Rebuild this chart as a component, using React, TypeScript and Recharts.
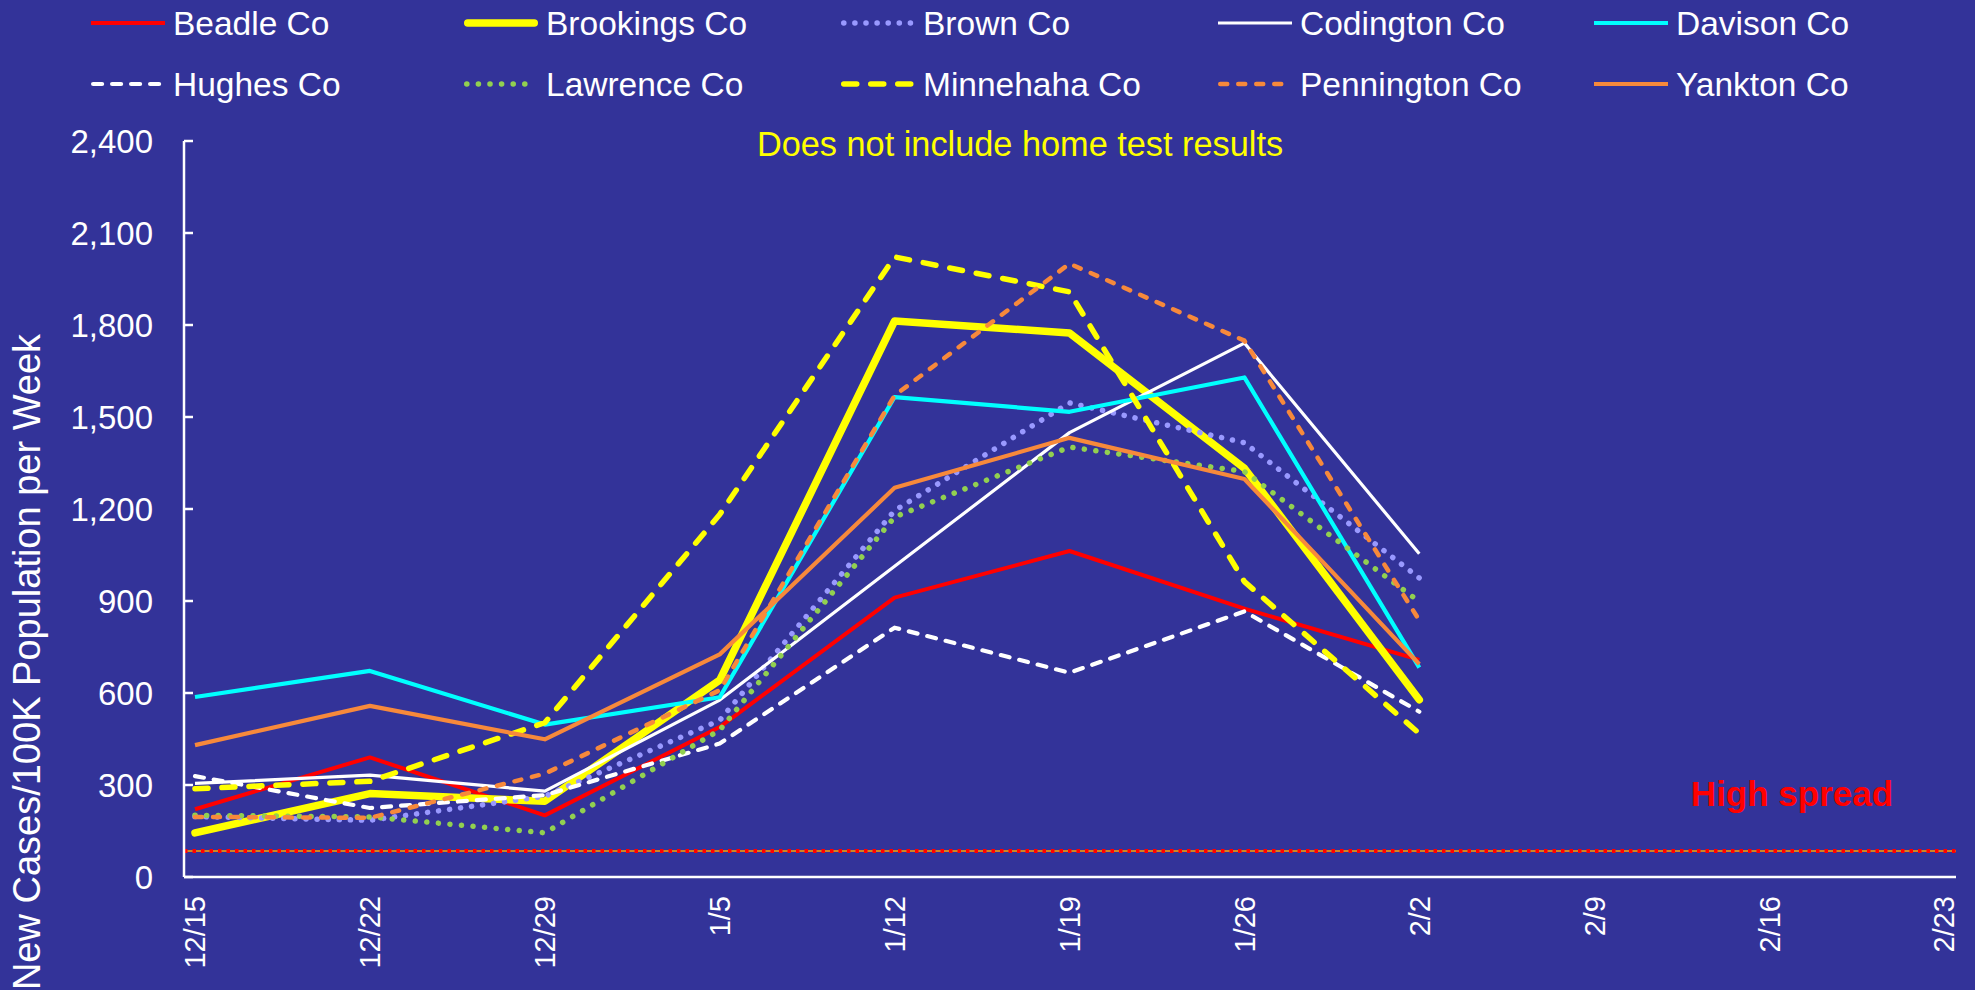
import React from 'react';
import { LineChart, Line, XAxis, YAxis, ReferenceLine, Legend, Customized } from 'recharts';

const categories = ['12/15', '12/22', '12/29', '1/5', '1/12', '1/19', '1/26', '2/2', '2/9', '2/16', '2/23'];

const beadle = [221, 390, 201, 489, 911, 1063, 875, 708];
const brookings = [144, 272, 247, 642, 1813, 1774, 1333, 578];
const brown = [197, 185, 263, 511, 1195, 1546, 1416, 975];
const codington = [305, 332, 280, 577, 1013, 1449, 1741, 1054];
const davison = [587, 672, 497, 586, 1565, 1517, 1629, 683];
const hughes = [329, 225, 267, 435, 813, 666, 866, 539];
const lawrence = [201, 196, 144, 479, 1174, 1402, 1322, 898];
const minnehaha = [288, 312, 503, 1182, 2022, 1908, 963, 468];
const pennington = [196, 193, 337, 609, 1570, 2000, 1749, 837];
const yankton = [430, 558, 449, 726, 1269, 1432, 1298, 694];

const yTicks = [0, 300, 600, 900, 1200, 1500, 1800, 2100, 2400];
const highSpreadThreshold = 85;

const FONT = '"Liberation Sans", Arial, sans-serif';
const BG = '#333399';

type SeriesDef = {
  key: string;
  name: string;
  values: number[];
  color: string;
  width: number;
  dash?: string;
  cap: 'butt' | 'round';
};

const seriesDefs: SeriesDef[] = [
  { key: 'beadle', name: 'Beadle Co', values: beadle, color: '#FF0000', width: 4, cap: 'butt' },
  { key: 'brookings', name: 'Brookings Co', values: brookings, color: '#FFFF00', width: 7.5, cap: 'round' },
  { key: 'brown', name: 'Brown Co', values: brown, color: '#9999FF', width: 5.5, dash: '0.1 11', cap: 'round' },
  { key: 'codington', name: 'Codington Co', values: codington, color: '#FFFFFF', width: 3.2, cap: 'butt' },
  { key: 'davison', name: 'Davison Co', values: davison, color: '#00FFFF', width: 4.2, cap: 'butt' },
  { key: 'hughes', name: 'Hughes Co', values: hughes, color: '#FFFFFF', width: 4.2, dash: '9 10', cap: 'round' },
  { key: 'lawrence', name: 'Lawrence Co', values: lawrence, color: '#92D050', width: 5.5, dash: '0.1 11.5', cap: 'round' },
  { key: 'minnehaha', name: 'Minnehaha Co', values: minnehaha, color: '#FFFF00', width: 5.5, dash: '13 14', cap: 'round' },
  { key: 'pennington', name: 'Pennington Co', values: pennington, color: '#F7893B', width: 4.5, dash: '7 11', cap: 'round' },
  { key: 'yankton', name: 'Yankton Co', values: yankton, color: '#F7893B', width: 4.2, cap: 'butt' },
];

const data = categories.map((c, i) => {
  const row: Record<string, any> = { date: c };
  seriesDefs.forEach((s) => {
    row[s.key] = i < s.values.length ? s.values[i] : null;
  });
  return row;
});

const legendCols = [91, 464, 841, 1218, 1594];
const legendRows = [23, 84];

const LegendContent = () => (
  <svg width={1975} height={110} style={{ display: 'block' }}>
    {seriesDefs.map((s, i) => {
      const x = legendCols[i % 5];
      const y = legendRows[Math.floor(i / 5)];
      return (
        <g key={s.key}>
          <line
            x1={x + (s.cap === 'round' ? s.width / 2 : 0)}
            x2={x + 74 - (s.cap === 'round' ? s.width / 2 : 0)}
            y1={y}
            y2={y}
            stroke={s.color}
            strokeWidth={s.width}
            strokeDasharray={s.dash}
            strokeLinecap={s.cap}
          />
          <text x={x + 82} y={y} dy="0.36em" fill="#FFFFFF" fontSize={33.5} fontFamily={FONT}>
            {s.name}
          </text>
        </g>
      );
    })}
  </svg>
);

const XTick = (props: any) => {
  const { x, y, payload } = props;
  return (
    <text
      x={x}
      y={y}
      transform={`rotate(-90, ${x}, ${y})`}
      textAnchor="end"
      dy="0.36em"
      fill="#FFFFFF"
      fontSize={29}
      fontFamily={FONT}
    >
      {payload.value}
    </text>
  );
};

const Annotations = () => (
  <g>
    <text x={1020} y={144} dy="0.36em" textAnchor="middle" fill="#FFFF00" fontSize={34.3} fontFamily={FONT}>
      Does not include home test results
    </text>
    <text x={1792} y={806} textAnchor="middle" fill="#FF0000" fontSize={35} fontWeight="bold" fontFamily={FONT}>
      High spread
    </text>
    <text
      x={40}
      y={662}
      transform="rotate(-90, 40, 662)"
      textAnchor="middle"
      fill="#FFFFFF"
      fontSize={38}
      fontFamily={FONT}
    >
      New Cases/100K Population per Week
    </text>
  </g>
);

export default function App() {
  return (
    <div style={{ width: 1975, height: 990, background: BG, position: 'relative', overflow: 'hidden' }}>
      <style>{`body{margin:0;background:${BG};}`}</style>
      <LineChart
        width={1975}
        height={990}
        data={data}
        margin={{ top: 141, right: 19, left: 84, bottom: 0 }}
        style={{ background: BG }}
      >
        <XAxis
          dataKey="date"
          type="category"
          interval={0}
          padding={{ left: 11, right: 12 }}
          height={113}
          axisLine={{ stroke: '#FFFFFF', strokeWidth: 2.5 }}
          tickLine={false}
          tickSize={6}
          tickMargin={13}
          tick={<XTick />}
        />
        <YAxis
          domain={[0, 2400]}
          ticks={yTicks}
          width={100}
          interval={0}
          allowDataOverflow
          axisLine={{ stroke: '#FFFFFF', strokeWidth: 2.5 }}
          tickLine={{ stroke: '#FFFFFF', strokeWidth: 2.5 }}
          tickSize={-9}
          tickMargin={40}
          tick={{ fill: '#FFFFFF', fontSize: 33, fontFamily: FONT }}
          tickFormatter={(v: number) => v.toLocaleString('en-US')}
        />
        <ReferenceLine y={highSpreadThreshold} stroke="#FFA500" strokeWidth={1.5} />
        <ReferenceLine y={highSpreadThreshold} stroke="#FF0000" strokeWidth={4} strokeDasharray="3.5 5" />
        {seriesDefs.map((s) => (
          <Line
            key={s.key}
            type="linear"
            dataKey={s.key}
            name={s.name}
            stroke={s.color}
            strokeWidth={s.width}
            strokeDasharray={s.dash}
            strokeLinecap={s.cap}
            strokeLinejoin="round"
            dot={false}
            activeDot={false}
            connectNulls={false}
            isAnimationActive={false}
          />
        ))}
        <Legend
          layout="horizontal"
          verticalAlign="middle"
          align="center"
          content={<LegendContent />}
          wrapperStyle={{ position: 'absolute', top: 0, left: 0, width: 1975, height: 110 }}
        />
        <Customized component={<Annotations />} />
      </LineChart>
    </div>
  );
}
